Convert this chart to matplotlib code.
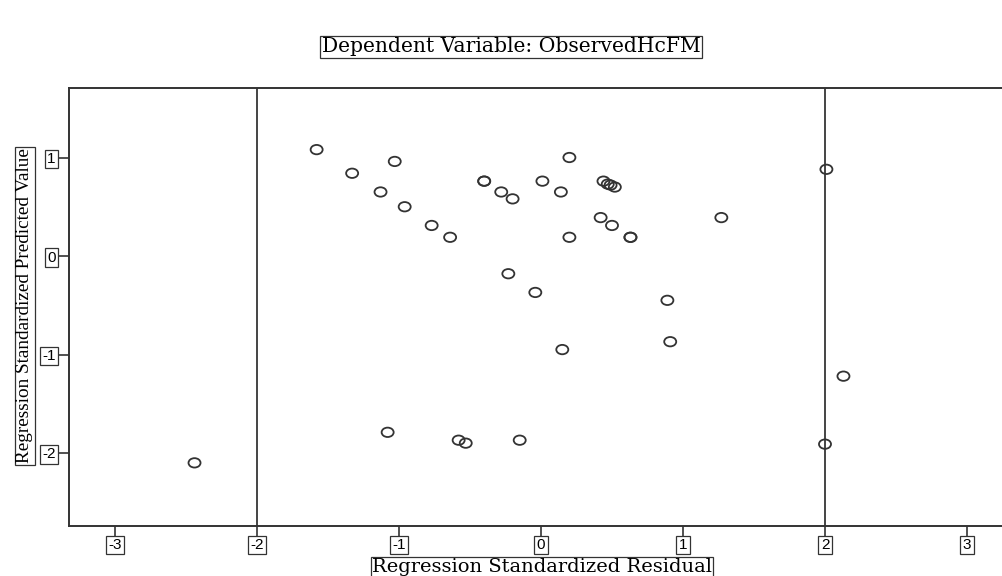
import matplotlib
matplotlib.use("Agg")
from matplotlib import pyplot as plt
from matplotlib.path import Path
import numpy as np

# standardized residuals (x) and standardized predicted values (y)
resid = [-1.58, -1.33, -1.03, -1.13, -0.96, -0.77, -0.64, -0.40, -0.40, -0.28,
         -0.20, 0.01, 0.14, 0.20, 0.20, 0.44, 0.47, 0.49, 0.52, 0.42,
         0.50, 0.63, 0.63, 1.27, 2.01, -0.23, -0.04, 0.89, 0.91, 0.15,
         2.13, -1.08, -0.58, -0.53, -0.15, 2.00, -2.44]
pred = [1.08, 0.84, 0.96, 0.65, 0.50, 0.31, 0.19, 0.76, 0.76, 0.65,
        0.58, 0.76, 0.65, 1.00, 0.19, 0.76, 0.73, 0.72, 0.70, 0.39,
        0.31, 0.19, 0.19, 0.39, 0.88, -0.18, -0.37, -0.45, -0.87, -0.95,
        -1.22, -1.79, -1.87, -1.90, -1.87, -1.91, -2.10]
ref_lines = [-2, 2]
xticks = [-3, -2, -1, 0, 1, 2, 3]
yticks = [1, 0, -1, -2]

title = "Dependent Variable: ObservedHcFM"
xlabel = "Regression Standardized Residual"
ylabel = "Regression Standardized Predicted Value"

# slightly flattened circle marker
circ = Path.unit_circle()
verts = circ.vertices.copy()
verts[:, 1] *= 0.78
oval = Path(verts, circ.codes)

fig = plt.figure(figsize=(10.03, 5.76), dpi=100)
# axes run past the right edge of the figure, as in the original
ax = fig.add_axes([69/1003, 50/576, 960/1003, 438/576])

for xv in ref_lines:
    ax.axvline(xv, color="#444444", lw=1.4, zorder=1)

ax.scatter(resid, pred, marker=oval, s=75, facecolors="none",
           edgecolors="#333333", linewidths=1.3, zorder=3)

ax.set_xlim((69-541)/142, (1029-541)/142)
ax.set_ylim((256-526)/98.5, (256-88)/98.5)

ax.spines["right"].set_visible(False)
for s in ["left", "bottom", "top"]:
    ax.spines[s].set_color("#333333")
    ax.spines[s].set_linewidth(1.4)

ax.set_xticks(xticks)
ax.set_xticklabels([str(t) for t in xticks])
ax.set_yticks(yticks)
ax.set_yticklabels([str(t) for t in yticks])
ax.tick_params(axis="x", direction="out", length=7.5, width=1.2, color="#333333",
               pad=1, labelsize=11)
ax.tick_params(axis="y", direction="out", length=8.5, width=1.2, color="#333333",
               pad=1, labelsize=11)

box = dict(boxstyle="square,pad=0.15", fc="white", ec="#333333", lw=0.9)
for lbl in ax.get_xticklabels() + ax.get_yticklabels():
    lbl.set_fontfamily("Liberation Sans")
    lbl.set_bbox(box)

tbox = dict(boxstyle="square,pad=0.06", fc="white", ec="#333333", lw=0.9)
fig.text(511/1003, 1 - 47/576, title, ha="center", va="center",
         family="DejaVu Serif", fontsize=14.6, bbox=tbox)
fig.text(542/1003, 1 - 567/576, xlabel, ha="center", va="center",
         family="DejaVu Serif", fontsize=14, bbox=tbox)
fig.text(25/1003, 1 - 306/576, ylabel, ha="center", va="center", rotation=90,
         family="Liberation Serif", fontsize=13.8, bbox=tbox)

fig.savefig("out.png", dpi=100)
